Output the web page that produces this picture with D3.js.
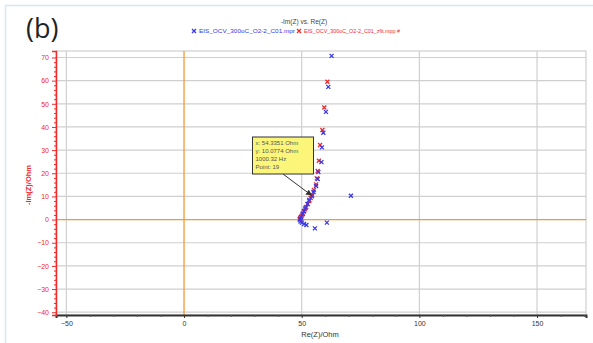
<!DOCTYPE html>
<html><head><meta charset="utf-8">
<script src="https://cdn.jsdelivr.net/npm/d3@7"></script>
<style>body{margin:0;background:#fff}svg{display:block;font-family:"Liberation Sans",Arial,sans-serif}</style>
</head><body><svg id="c" width="593" height="343"></svg>
<script>
const xTicks = [-50, 0, 50, 100, 150];
const yTicks = [-40, -30, -20, -10, 0, 10, 20, 30, 40, 50, 60, 70];
const measuredRe = [62.7, 61.3, 60.3, 59.2, 58.6, 58.4, 57.1, 56.8, 56.1, 55.0, 54.34, 53.2, 52.5, 51.6, 51.0, 50.4, 49.7, 49.3, 49.5, 50.1, 51.0, 52.0, 55.6, 60.7, 70.9];
const measuredIm = [70.7, 57.3, 46.5, 37.5, 31.2, 24.8, 20.5, 17.5, 14.5, 11.9, 10.08, 8.5, 6.7, 5.0, 3.7, 2.4, 1.1, 0.3, -0.8, -1.3, -1.9, -2.3, -3.8, -1.3, 10.3];
const fitRe = [60.9, 59.6, 58.8, 57.8, 57.3, 56.8, 56.4, 56.1, 55.2, 54.4, 53.8, 53.2, 52.5, 51.9, 51.4, 50.9, 50.5, 50.1, 49.7, 49.4, 49.3, 49.25, 49.2];
const fitIm = [59.5, 48.4, 38.7, 32.2, 25.4, 21.0, 17.8, 15.2, 12.8, 10.6, 9.3, 8.0, 6.7, 5.4, 4.4, 3.5, 2.6, 1.8, 1.1, 0.6, 0.2, 0.05, 0.0];
const titleText = "-Im(Z) vs. Re(Z)";
const seriesNames = ["EIS_OCV_300oC_O2-2_C01.mpr", "EIS_OCV_300oC_O2-2_C01_zfit.mpp #"];
const tipLines = ["x: 54.3351 Ohm", "y: 10.0774 Ohm", "1000.32 Hz", "Point: 19"];
const tipPoint = [54.3351, 10.0774];

const svg = d3.select("#c");
const L = 56, R = 586, T = 51, B = 315;
const x = d3.scaleLinear().domain([-54.4, 170.8]).range([L, R]);
const y = d3.scaleLinear().domain([-41.2, 72.8]).range([B, T]);
const BLUE = "#3838e8", RED = "#ee2a2a", ORANGE = "#f49a30", GRID = "#cfcfcf";

// outer frame
svg.append("rect").attr("x", 5.5).attr("y", 5.5).attr("width", 600).attr("height", 340)
  .attr("fill", "none").attr("stroke", "#d6e6f4").attr("stroke-width", 1.5);

svg.append("text").attr("x", 26).attr("y", 38).attr("font-size", 27).attr("fill", "#222")
  .attr("font-family", "'Open Sans',sans-serif").text("(b)");

// title + legend
svg.append("text").attr("x", 304).attr("y", 24).attr("text-anchor", "middle").attr("font-size", 6.5).attr("fill", "#444").text(titleText);
const lg = svg.append("g").attr("font-size", 5.8);
const legX = [194, 299], legW = [96, 96], cols = [BLUE, RED];
seriesNames.forEach((n, i) => {
  const g = lg.append("g").attr("transform", `translate(${legX[i]},31)`);
  g.append("path").attr("d", "M-2,-2L2,2M-2,2L2,-2").attr("stroke", cols[i]).attr("stroke-width", 1.3);
  g.append("text").attr("x", 5).attr("y", 2.2).attr("fill", cols[i])
    .attr("textLength", legW[i]).attr("lengthAdjust", "spacingAndGlyphs").text(n);
});

// plot border
svg.append("rect").attr("x", L).attr("y", T).attr("width", R - L).attr("height", B - T)
  .attr("fill", "none").attr("stroke", GRID).attr("stroke-width", 1.2);

// gridlines
svg.append("g").selectAll("line").data(yTicks.filter(d => d !== 0)).join("line")
  .attr("x1", L).attr("x2", R).attr("y1", d => y(d)).attr("y2", d => y(d))
  .attr("stroke", GRID).attr("stroke-width", 1.2);
svg.append("g").selectAll("line").data(xTicks.filter(d => d !== 0)).join("line")
  .attr("y1", T).attr("y2", B).attr("x1", d => x(d)).attr("x2", d => x(d))
  .attr("stroke", GRID).attr("stroke-width", 1.2);
svg.append("line").attr("x1", L).attr("x2", R).attr("y1", y(0)).attr("y2", y(0)).attr("stroke", ORANGE).attr("stroke-width", 1.3);
svg.append("line").attr("x1", x(0)).attr("x2", x(0)).attr("y1", T).attr("y2", B).attr("stroke", ORANGE).attr("stroke-width", 1.3);

// x axis
const xa = svg.append("g").attr("transform", `translate(0,${B})`)
  .call(d3.axisBottom(x).tickValues(xTicks).tickSize(3).tickPadding(3));
xa.select(".domain").attr("stroke", "#333").attr("stroke-width", 2);
xa.selectAll(".tick line").attr("stroke", "#333");
xa.selectAll("text").attr("font-size", 7).attr("fill", "#333");
svg.append("g").attr("transform", `translate(0,${B})`)
  .call(d3.axisBottom(x).tickValues(d3.range(-50, 171, 10).filter(v => v % 50 !== 0)).tickSize(2).tickFormat(""))
  .call(g => g.select(".domain").remove())
  .selectAll("line").attr("stroke", "#555");
svg.append("text").attr("x", 320).attr("y", 337).attr("text-anchor", "middle").attr("font-size", 7.5).attr("fill", "#333").text("Re(Z)/Ohm");

// y axis
const ya = svg.append("g").attr("transform", `translate(${L},0)`)
  .call(d3.axisLeft(y).tickValues(yTicks).tickSize(4).tickPadding(3));
ya.select(".domain").attr("stroke", RED).attr("stroke-width", 1.5);
ya.selectAll(".tick line").attr("stroke", RED);
ya.selectAll("text").attr("font-size", 7).attr("fill", RED);
svg.append("g").attr("transform", `translate(${L},0)`)
  .call(d3.axisLeft(y).tickValues(d3.range(-40, 72, 2).filter(v => v % 10 !== 0)).tickSize(2).tickFormat(""))
  .call(g => g.select(".domain").remove())
  .selectAll("line").attr("stroke", RED);
svg.append("text").attr("transform", "translate(31,185) rotate(-90)").attr("text-anchor", "middle")
  .attr("font-size", 7.5).attr("font-weight", "bold").attr("fill", RED).text("-Im(Z)/Ohm");

// data markers
function drawX(re, im, col) {
  svg.append("g").selectAll("path").data(re.map((v, i) => [v, im[i]])).join("path")
    .attr("d", d => { const px = x(d[0]), py = y(d[1]); return `M${px-2},${py-2}L${px+2},${py+2}M${px-2},${py+2}L${px+2},${py-2}`; })
    .attr("stroke", col).attr("stroke-width", 1.3).attr("fill", "none");
}
drawX(fitRe, fitIm, RED);
drawX(measuredRe, measuredIm, BLUE);

// tooltip
const tx = 252.5, ty = 137, tw = 61, th = 37;
svg.append("defs").append("marker").attr("id", "ah").attr("viewBox", "0 0 10 10").attr("refX", 9).attr("refY", 5)
  .attr("markerWidth", 6).attr("markerHeight", 6).attr("orient", "auto")
  .append("path").attr("d", "M0,0L10,5L0,10z").attr("fill", "#333");
svg.append("line").attr("x1", 283).attr("y1", ty + th).attr("x2", x(tipPoint[0]) - 0.5).attr("y2", y(tipPoint[1]) - 1)
  .attr("stroke", "#333").attr("stroke-width", 1).attr("marker-end", "url(#ah)");
svg.append("rect").attr("x", tx).attr("y", ty).attr("width", tw).attr("height", th)
  .attr("fill", "#fbf57a").attr("stroke", "#333").attr("stroke-width", 1);
svg.append("g").selectAll("text").data(tipLines).join("text")
  .attr("x", tx + 3).attr("y", (d, i) => ty + 7.5 + i * 8.2).attr("font-size", 6).attr("fill", "#555").text(d => d);
</script></body></html>
